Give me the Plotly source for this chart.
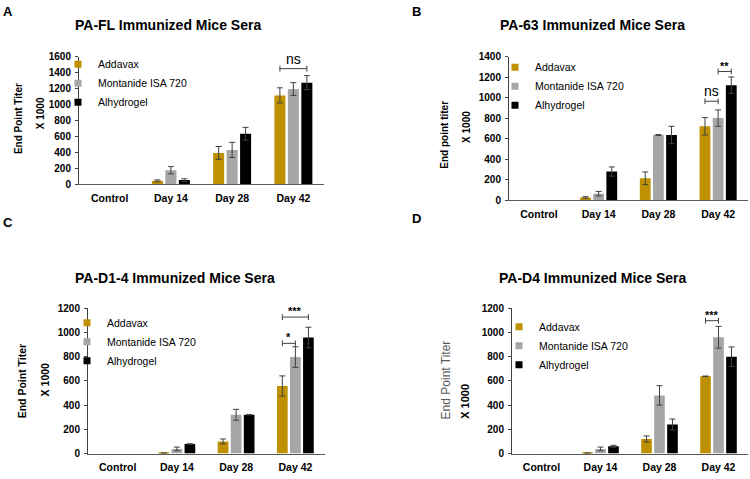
import plotly.graph_objects as go

W, H = 750, 479
FONT = "Liberation Sans, Arial, sans-serif"

categories = ["Control", "Day 14", "Day 28", "Day 42"]
series_names = ["Addavax", "Montanide ISA 720", "Alhydrogel"]
colors = ["#BF9000", "#A6A6A6", "#000000"]

# Control groups show no bar in the figure -> None
# Panel A: PA-FL
a_addavax = [None, 45, 395, 1115]
a_addavax_err = [None, 12, 80, 95]
a_montanide = [None, 178, 432, 1195]
a_montanide_err = [None, 45, 95, 80]
a_alhydrogel = [None, 55, 635, 1275]
a_alhydrogel_err = [None, 15, 80, 88]

# Panel B: PA-63
b_addavax = [None, 25, 212, 720]
b_addavax_err = [None, 8, 62, 85]
b_montanide = [None, 62, 635, 800]
b_montanide_err = [None, 22, 4, 80]
b_alhydrogel = [None, 278, 635, 1122]
b_alhydrogel_err = [None, 45, 85, 80]

# Panel C: PA-D1-4
c_addavax = [None, 3, 100, 558]
c_addavax_err = [None, 0, 20, 83]
c_montanide = [None, 38, 320, 797]
c_montanide_err = [None, 15, 45, 85]
c_alhydrogel = [None, 78, 320, 958]
c_alhydrogel_err = [None, 3, 2, 85]

# Panel D: PA-D4
d_addavax = [None, 3, 120, 638]
d_addavax_err = [None, 0, 25, 2]
d_montanide = [None, 38, 480, 960]
d_montanide_err = [None, 15, 80, 90]
d_alhydrogel = [None, 60, 240, 800]
d_alhydrogel_err = [None, 8, 45, 80]

# significance brackets: (from series, to series, category index, level, label)
a_brackets = [(0, 2, 3, 1450, "ns")]
b_brackets = [(0, 1, 3, 965, "ns"), (1, 2, 3, 1255, "**")]
c_brackets = [(0, 1, 3, 910, "*"), (0, 2, 3, 1127, "***")]
d_brackets = [(0, 1, 3, 1097, "***")]

BARGAP = 0.34
BARGROUPGAP = 0.18


def px(x):
    return x / W


def py(y):
    return 1 - y / H


panels = [
    dict(letter="A", letter_pos=(8, 6), title="PA-FL Immunized Mice Sera", title_pos=(168, 20),
         values=[a_addavax, a_montanide, a_alhydrogel],
         errors=[a_addavax_err, a_montanide_err, a_alhydrogel_err],
         brackets=a_brackets, ymax=1600, xdom=(79, 324), ydom=(52, 183),
         ytitle=[("End Point Titer", 18, 116, 10, "bold", "#000"), ("X 1000", 40, 110, 10, "bold", "#000")],
         legend=(58, 45)),
    dict(letter="B", letter_pos=(416, 6), title="PA-63 Immunized Mice Sera", title_pos=(592, 20),
         values=[b_addavax, b_montanide, b_alhydrogel],
         errors=[b_addavax_err, b_montanide_err, b_alhydrogel_err],
         brackets=b_brackets, ymax=1400, xdom=(509, 748), ydom=(52, 199),
         ytitle=[("End point titer", 445, 132, 10, "bold", "#000"), ("X 1000", 467, 124, 10, "bold", "#000")],
         legend=(495, 48)),
    dict(letter="C", letter_pos=(8, 222), title="PA-D1-4 Immunized Mice Sera", title_pos=(175, 279),
         values=[c_addavax, c_montanide, c_alhydrogel],
         errors=[c_addavax_err, c_montanide_err, c_alhydrogel_err],
         brackets=c_brackets, ymax=1200, xdom=(88, 325), ydom=(310, 459),
         ytitle=[("End Point Titer", 22, 385, 10.5, "bold", "#000"), ("X 1000", 45, 384, 10.5, "bold", "#000")],
         legend=(67, 310)),
    dict(letter="D", letter_pos=(416, 218), title="PA-D4 Immunized Mice Sera", title_pos=(592, 279),
         values=[d_addavax, d_montanide, d_alhydrogel],
         errors=[d_addavax_err, d_montanide_err, d_alhydrogel_err],
         brackets=d_brackets, ymax=1200, xdom=(512, 748), ydom=(310, 459),
         ytitle=[("End Point Titer", 446, 384, 12, "normal", "#595959"), ("X 1000", 465, 406, 11, "bold", "#000")],
         legend=(499, 314)),
]

fig = go.Figure()
annotations = []
shapes = []
layout_axes = {}

slot = (1 - BARGAP) / 3

for k, p in enumerate(panels):
    n = k + 1
    xa = "x" if n == 1 else f"x{n}"
    ya = "y" if n == 1 else f"y{n}"
    xkey = "xaxis" if n == 1 else f"xaxis{n}"
    ykey = "yaxis" if n == 1 else f"yaxis{n}"
    lkey = "legend" if n == 1 else f"legend{n}"

    for i, name in enumerate(series_names):
        fig.add_trace(go.Bar(
            x=categories, y=p["values"][i], name=name,
            marker=dict(color=colors[i], line=dict(width=0)),
            error_y=dict(type="data", array=p["errors"][i], visible=True,
                         color="#404040", thickness=1, width=3),
            xaxis=xa, yaxis=ya, showlegend=False, offsetgroup=str(i),
        ))
    for i, name in enumerate(series_names):
        fig.add_trace(go.Scatter(
            x=[None], y=[None], mode="markers", name=name,
            marker=dict(symbol="square", size=7, color=colors[i]),
            xaxis=xa, yaxis=ya, showlegend=True, legend=lkey,
        ))

    x0, x1 = p["xdom"]
    ytop, ybot = p["ydom"]
    layout_axes[xkey] = dict(
        domain=[px(x0), px(x1)], anchor=ya, type="category",
        categoryorder="array", categoryarray=categories, range=[-0.5, 3.5],
        showline=True, linecolor="#595959", linewidth=1, ticks="",
        showgrid=False, zeroline=False, ticklabelstandoff=4,
        tickfont=dict(family=FONT, size=10.5, color="#000", weight="bold"),
    )
    layout_axes[ykey] = dict(
        domain=[py(ybot), py(ytop)], anchor=xa, range=[0, p["ymax"]], dtick=200,
        showline=True, linecolor="#404040", linewidth=1, ticks="outside",
        ticklen=3, tickcolor="#404040", showgrid=False, zeroline=False,
        ticklabelstandoff=2,
        tickfont=dict(family=FONT, size=10, color="#000", weight="bold"),
    )
    lx, ly = p["legend"]
    layout_axes[lkey] = dict(
        x=px(lx), y=py(ly), xanchor="left", yanchor="top",
        bgcolor="rgba(0,0,0,0)", borderwidth=0,
        font=dict(family=FONT, size=10.5, color="#000"),
    )

    # panel letter and title
    annotations.append(dict(text=p["letter"], x=px(p["letter_pos"][0]), y=py(p["letter_pos"][1]),
                            xref="paper", yref="paper", showarrow=False, xanchor="center", yanchor="middle",
                            font=dict(family=FONT, size=13, color="#000", weight="bold")))
    annotations.append(dict(text=p["title"], x=px(p["title_pos"][0]), y=py(p["title_pos"][1]),
                            xref="paper", yref="paper", showarrow=False, xanchor="center", yanchor="middle",
                            font=dict(family=FONT, size=14, color="#000", weight="bold")))
    for (txt, tx, ty, fs, fw, fc) in p["ytitle"]:
        annotations.append(dict(text=txt, x=px(tx), y=py(ty), xref="paper", yref="paper",
                                showarrow=False, textangle=-90, xanchor="center", yanchor="middle",
                                font=dict(family=FONT, size=fs, color=fc, weight=fw)))

    # significance brackets
    units_per_px = p["ymax"] / (ybot - ytop)
    tick_half = 3 * units_per_px
    for (s0, s1, cat, level, label) in p["brackets"]:
        bx0 = cat + (s0 - 1) * slot
        bx1 = cat + (s1 - 1) * slot
        line = dict(color="#404040", width=1)
        shapes.append(dict(type="line", xref=xa, yref=ya, x0=bx0, x1=bx1, y0=level, y1=level, line=line))
        for bx in (bx0, bx1):
            shapes.append(dict(type="line", xref=xa, yref=ya, x0=bx, x1=bx,
                               y0=level - tick_half, y1=level + tick_half, line=line))
        if label == "ns":
            lfont = dict(family=FONT, size=14, color="#000")
            shift = 0
        else:
            lfont = dict(family=FONT, size=11, color="#000", weight="bold")
            shift = -2
        annotations.append(dict(text=label, x=(bx0 + bx1) / 2, y=level, xref=xa, yref=ya,
                                showarrow=False, xanchor="center", yanchor="bottom", yshift=shift,
                                font=lfont))

fig.update_layout(
    width=W, height=H, autosize=False,
    margin=dict(l=0, r=0, t=0, b=0),
    paper_bgcolor="white", plot_bgcolor="white",
    barmode="group", bargap=BARGAP, bargroupgap=BARGROUPGAP,
    annotations=annotations, shapes=shapes,
    font=dict(family=FONT, color="#000"),
    **layout_axes,
)

fig.write_html(
    "out.html",
    config={"displayModeBar": False},
    post_script="document.body.style.margin='0px';document.body.style.overflow='hidden';",
)
